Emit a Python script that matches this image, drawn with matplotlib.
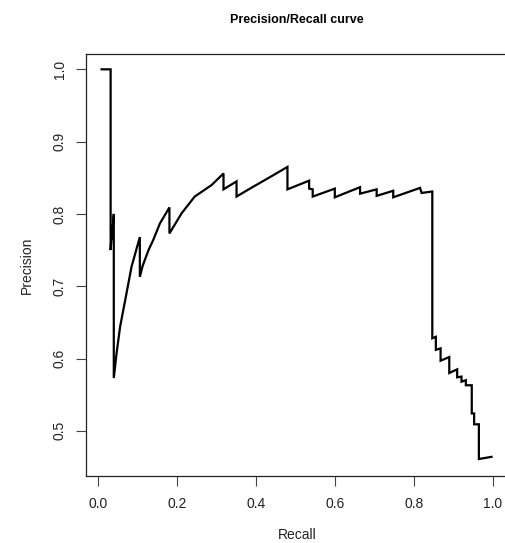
import numpy as np
import matplotlib
matplotlib.use("Agg")
import matplotlib.pyplot as plt

plt.rcParams['font.family'] = ['Liberation Sans', 'DejaVu Sans']

# Points of the precision/recall curve
recall = [0.009, 0.032, 0.032, 0.035, 0.035, 0.040, 0.040,
          0.047, 0.056, 0.069, 0.085, 0.106, 0.106, 0.113, 0.128, 0.140,
          0.157, 0.181, 0.181, 0.212, 0.245, 0.288, 0.318, 0.318, 0.351,
          0.351, 0.385, 0.436, 0.480, 0.480, 0.535, 0.535, 0.544, 0.544,
          0.600, 0.600, 0.664, 0.664, 0.706, 0.706, 0.748, 0.748, 0.816,
          0.820, 0.847, 0.847, 0.856, 0.856, 0.868, 0.868, 0.890, 0.890,
          0.910, 0.910, 0.921, 0.921, 0.932, 0.932, 0.947, 0.947, 0.953,
          0.953, 0.965, 0.965, 0.997]
precision = [1.000, 1.000, 0.750, 0.775, 0.765, 0.800, 0.573,
             0.607, 0.644, 0.681, 0.727, 0.768, 0.713, 0.728, 0.750, 0.764,
             0.787, 0.809, 0.773, 0.801, 0.824, 0.840, 0.856, 0.834, 0.845,
             0.824, 0.835, 0.851, 0.865, 0.834, 0.846, 0.835, 0.834, 0.824,
             0.835, 0.823, 0.837, 0.828, 0.834, 0.825, 0.832, 0.823, 0.836,
             0.829, 0.831, 0.628, 0.630, 0.612, 0.614, 0.597, 0.602, 0.580,
             0.585, 0.574, 0.575, 0.568, 0.570, 0.563, 0.563, 0.524, 0.524,
             0.509, 0.509, 0.461, 0.464]

xticks = [0.0, 0.2, 0.4, 0.6, 0.8, 1.0]
yticks = [0.5, 0.6, 0.7, 0.8, 0.9, 1.0]

W, H = 506, 543
fig = plt.figure(figsize=(W / 100, H / 100), dpi=100, facecolor='white')
# R-style plot region; its right edge runs past the picture, as in the reference
ax = fig.add_axes([86 / W, (H - 476) / H, 422 / W, 422 / H])

ax.plot(recall, precision, color='black', linewidth=1.6, solid_joinstyle='miter')

ax.set_xlim(-0.0304, 1.0388)
ax.set_ylim(0.4375, 1.0212)

ax.set_xticks(xticks)
ax.set_xticklabels([f"{t:.1f}" for t in xticks])
ax.set_yticks(yticks)
ax.set_yticklabels([f"{t:.1f}" for t in yticks], rotation=90, va='center')
ax.tick_params(axis='both', direction='out', length=7, width=0.8, color='#444',
               labelsize=10, labelcolor='#222')
ax.tick_params(axis='x', pad=8)
ax.tick_params(axis='y', pad=7)

for s in ax.spines.values():
    s.set_color('#222')
    s.set_linewidth(0.9)
ax.spines['right'].set_visible(False)

ax.set_xlabel("Recall", fontsize=10, color='#222')
ax.xaxis.set_label_coords(0.5, (476 - 535) / 422)
ax.xaxis.label.set_va('center')
ax.set_ylabel("Precision", fontsize=10, color='#222')
ax.yaxis.set_label_coords((27 - 86) / 422, 0.5)
ax.yaxis.label.set_va('center')

ax.set_title("Precision/Recall curve", fontsize=9, fontweight='bold',
             y=(476 - 20) / 422, va='center', pad=0)

fig.savefig("out.png", dpi=100, facecolor='white')
